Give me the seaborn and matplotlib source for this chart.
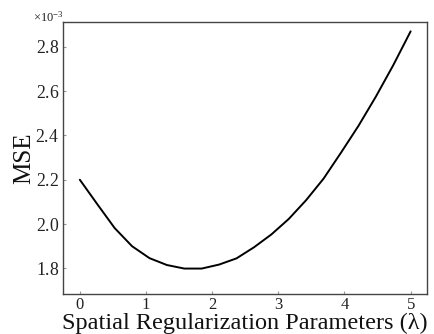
import numpy as np
import pandas as pd
import matplotlib
matplotlib.use("Agg")
import matplotlib.pyplot as plt
import matplotlib.ticker as mticker
import seaborn as sns

# lambda values (20 evenly spaced points from 0 to 5)
lambdas = [0.000, 0.263, 0.526, 0.789, 1.053, 1.316, 1.579, 1.842, 2.105, 2.368,
           2.632, 2.895, 3.158, 3.421, 3.684, 3.947, 4.211, 4.474, 4.737, 5.000]
# MSE (in units of 1e-3)
mse_e3 = [2.200, 2.090, 1.982, 1.900, 1.846, 1.815, 1.799, 1.799, 1.817, 1.845,
          1.895, 1.953, 2.023, 2.108, 2.205, 2.322, 2.443, 2.575, 2.717, 2.870]
yticks_e3 = [1.8, 2.0, 2.2, 2.4, 2.6, 2.8]
xticks = [0, 1, 2, 3, 4, 5]

df = pd.DataFrame({"lam": lambdas, "mse": np.array(mse_e3) * 1e-3})

sns.set_style("ticks")
plt.rcParams["font.family"] = ["Liberation Serif", "DejaVu Serif"]
plt.rcParams["mathtext.fontset"] = "custom"
plt.rcParams["mathtext.rm"] = "Liberation Serif"
plt.rcParams["mathtext.it"] = "Liberation Serif:italic"

fig = plt.figure(figsize=(4.35, 3.34), dpi=100)
ax = fig.add_axes([0.1455, 0.119, 0.8365, 0.815])

sns.lineplot(data=df, x="lam", y="mse", color="black", linewidth=1.4, ax=ax)

ax.set_xticks(xticks)
ax.set_yticks(np.array(yticks_e3) * 1e-3)
ax.set_ylim(1.683e-3, 2.912e-3)

fmt = mticker.ScalarFormatter(useMathText=True)
fmt.set_powerlimits((-2, 2))
ax.yaxis.set_major_formatter(fmt)
ax.yaxis.OFFSETTEXTPAD = 0
off = ax.yaxis.get_offset_text()
off.set_fontsize(9)
off.set_horizontalalignment("right")
off.set_color("#333333")

ax.set_xlabel("Spatial Regularization Parameters (λ)", fontsize=17.5, labelpad=0,
              color="#111111")
ax.set_ylabel("MSE", fontsize=18, labelpad=0, color="#111111")
ax.tick_params(axis="both", direction="in", length=2.5, width=0.8,
               color="#999999", labelcolor="#222222")
ax.tick_params(axis="x", labelsize=12, pad=2)
ax.tick_params(axis="y", labelsize=12.8, pad=3)
for s in ax.spines.values():
    s.set_visible(True)
    s.set_color("#444444")
    s.set_linewidth(1)

fig.savefig("out.png", dpi=100)
